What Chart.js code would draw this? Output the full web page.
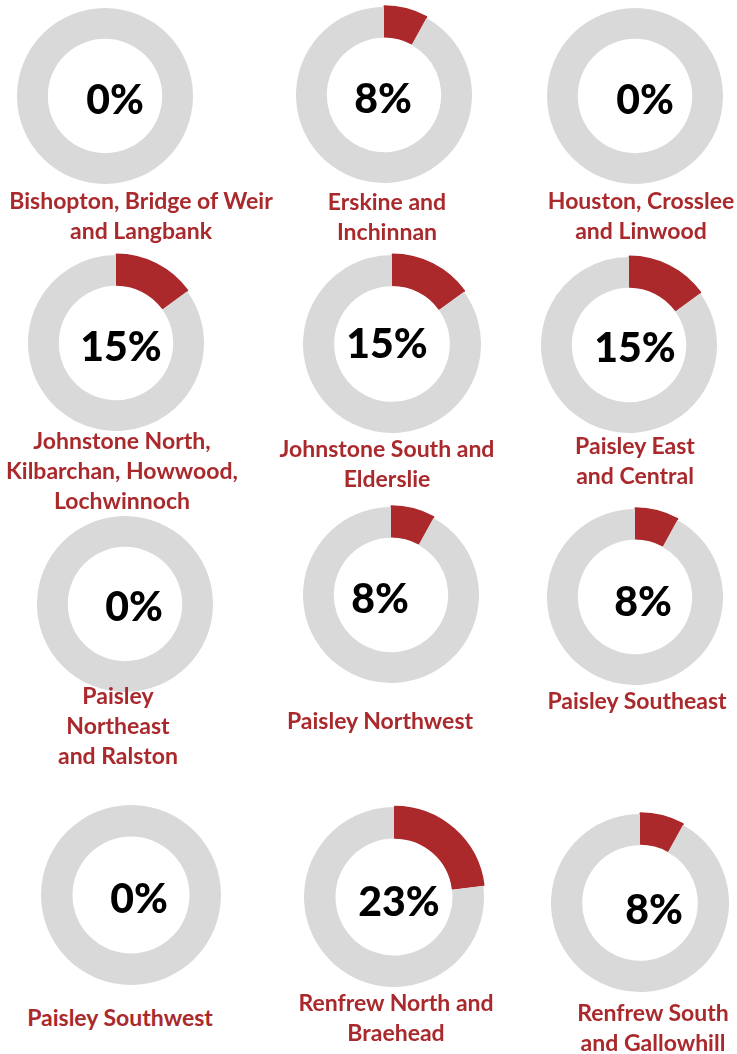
<!DOCTYPE html>
<html lang="en">
<head>
    <meta charset="UTF-8">
    <title>Share by area</title>
    <script src="https://cdn.jsdelivr.net/npm/chart.js"></script>
    <style>
        body { margin: 0; background: #fff; }
        #board { position: relative; width: 737px; height: 1054px; overflow: hidden; font-family: Lato, "Open Sans", sans-serif; }
        #board canvas { position: absolute; }
        .pct { position: absolute; transform: translate(-50%, -50%); font-weight: 900; font-size: 41px; color: #000; white-space: nowrap; line-height: 1; }
        .area { position: absolute; transform: translateX(-50%); font-weight: 700; font-size: 23px; color: #a9292c; text-align: center; line-height: 30px; white-space: nowrap; }
    </style>
</head>
<body>
    <div id="board"></div>

    <script>
        // data
        const areas = [
            ["Bishopton, Bridge of Weir", "and Langbank"],
            ["Erskine and", "Inchinnan"],
            ["Houston, Crosslee", "and Linwood"],
            ["Johnstone North,", "Kilbarchan, Howwood,", "Lochwinnoch"],
            ["Johnstone South and", "Elderslie"],
            ["Paisley East", "and Central"],
            ["Paisley", "Northeast", "and Ralston"],
            ["Paisley Northwest"],
            ["Paisley Southeast"],
            ["Paisley Southwest"],
            ["Renfrew North and", "Braehead"],
            ["Renfrew South", "and Gallowhill"]
        ];
        const shares = [0, 8, 0, 15, 15, 15, 0, 8, 8, 0, 23, 8];

        // layout (ring centre, percent text centre, label first-line centre)
        const ringPos = [[105,96],[384,95],[635,96],[116,343],[392,344],[629,345],[125,604],[391,595],[635,597],[131,895],[394,897],[640,903]];
        const ringRadius = [88,88,88,88,89,88,88,88,88,90,90,89];
        const pctPos = [[115,98],[383,97],[645,98],[121,345],[387,342],[635,346],[134,605],[380,597],[643,600],[139,897],[399,900],[654,908]];
        const labelPos = [[141,200],[387,201],[641,200],[122,440],[387,448],[635,445],[118,695],[380,720],[637,700],[120,1017],[396,1002],[653,1012]];

        const RED = '#ab282b';
        const GREY = '#d9d9d9';
        const board = document.getElementById("board");

        shares.forEach((share, i) => {
            const size = 200;
            const canvas = document.createElement("canvas");
            canvas.width = size;
            canvas.height = size;
            canvas.style.left = (ringPos[i][0] - size / 2) + "px";
            canvas.style.top = (ringPos[i][1] - size / 2) + "px";
            board.appendChild(canvas);

            new Chart(canvas.getContext('2d'), {
                type: 'doughnut',
                data: {
                    labels: [areas[i].join(' '), 'Other'],
                    datasets: [{
                        data: [share, 100 - share],
                        backgroundColor: [RED, GREY],
                        borderColor: [RED, GREY],
                        borderWidth: [1.5, 0],
                        offset: [3, 0]
                    }]
                },
                options: {
                    responsive: false,
                    animation: false,
                    radius: ringRadius[i],
                    cutout: '65%',
                    layout: { padding: 0 },
                    plugins: {
                        legend: { display: false },
                        tooltip: { enabled: false }
                    }
                }
            });

            const pct = document.createElement("div");
            pct.className = "pct";
            pct.textContent = share + "%";
            pct.style.left = pctPos[i][0] + "px";
            pct.style.top = pctPos[i][1] + "px";
            board.appendChild(pct);

            const label = document.createElement("div");
            label.className = "area";
            label.innerHTML = areas[i].join("<br>");
            label.style.left = labelPos[i][0] + "px";
            label.style.top = (labelPos[i][1] - 15) + "px";
            board.appendChild(label);
        });
    </script>
</body>
</html>
